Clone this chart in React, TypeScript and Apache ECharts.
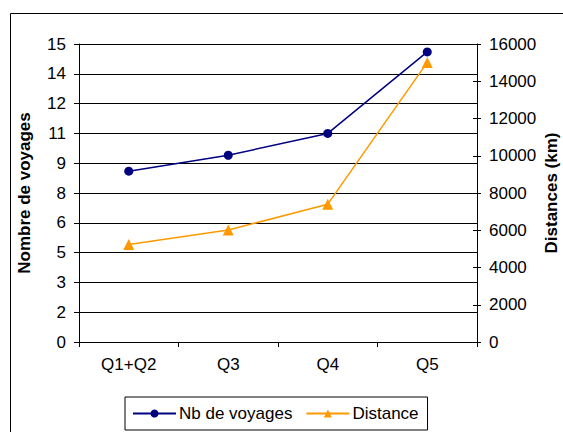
import React, { useEffect, useRef } from "react";
import * as echarts from "echarts";

const categories = ["Q1+Q2", "Q3", "Q4", "Q5"];
const voyages = [8.6, 9.4, 10.5, 14.6];
const distances = [5230, 6010, 7400, 15010];
const seriesNames = ["Nb de voyages", "Distance"];
const leftAxisName = "Nombre de voyages";
const rightAxisName = "Distances (km)";

const FONT = "'Liberation Sans', Arial, sans-serif";

export default function App() {
  const ref = useRef<HTMLDivElement>(null);
  useEffect(() => {
    if (!ref.current) return;
    const chart = echarts.init(ref.current, null, { renderer: "svg" });
    chart.setOption({
      animation: false,
      backgroundColor: "#fff",
      textStyle: { fontFamily: FONT },
      graphic: [
        {
          type: "rect",
          shape: { x: 10.5, y: 13.5, width: 600, height: 500 },
          style: { fill: "none", stroke: "#000", lineWidth: 1 },
          silent: true,
        },
      ],
      grid: { left: 79, right: 86, top: 44, bottom: 90, containLabel: false, outerBoundsMode: "none" },
      legend: {
        data: seriesNames,
        left: 125,
        top: 397,
        padding: [8, 9, 8, 7],
        itemWidth: 43,
        itemHeight: 10,
        itemGap: 13,
        borderColor: "#000",
        borderWidth: 1,
        textStyle: { fontFamily: FONT, fontSize: 17, color: "#000", padding: [0, 0, 0, -2] },
      },
      xAxis: {
        type: "category",
        data: categories,
        boundaryGap: true,
        axisLine: { lineStyle: { color: "#000", width: 1 } },
        axisTick: { show: true, length: 5, lineStyle: { color: "#000" } },
        axisLabel: { color: "#000", fontSize: 17, fontFamily: FONT, margin: 14 },
      },
      yAxis: [
        {
          type: "value",
          min: 0,
          max: 15,
          interval: 1.5,
          position: "left",
          name: leftAxisName,
          nameLocation: "middle",
          nameGap: 46,
          nameRotate: 90,
          nameTextStyle: { fontSize: 17, lineHeight: 17, fontWeight: "bold", color: "#000", fontFamily: FONT },
          axisLine: { show: true, lineStyle: { color: "#000", width: 1 } },
          axisTick: { show: true, length: 5, lineStyle: { color: "#000" } },
          axisLabel: {
            color: "#000",
            fontSize: 17,
            fontFamily: FONT,
            margin: 13,
            formatter: (v: number) => String(Math.round(v)),
          },
          splitLine: { show: true, lineStyle: { color: "#000", width: 1 } },
        },
        {
          type: "value",
          min: 0,
          max: 16000,
          interval: 2000,
          position: "right",
          name: rightAxisName,
          nameLocation: "middle",
          nameGap: 66,
          nameMoveOverlap: false,
          nameRotate: 90,
          nameTextStyle: { fontSize: 17, lineHeight: 17, fontWeight: "bold", color: "#000", fontFamily: FONT },
          axisLine: { show: true, lineStyle: { color: "#000", width: 1 } },
          axisTick: { show: true, length: 4, lineStyle: { color: "#000" } },
          axisLabel: {
            color: "#000",
            fontSize: 17,
            fontFamily: FONT,
            margin: 12,
            formatter: (v: number) => String(v),
          },
          splitLine: { show: false },
        },
        {
          type: "value",
          min: 0,
          max: 16000,
          interval: 2000,
          position: "right",
          axisLine: { show: false },
          axisTick: { show: true, inside: true, length: 4, lineStyle: { color: "#000" } },
          axisLabel: { show: false },
          splitLine: { show: false },
        },
      ],
      series: [
        {
          name: seriesNames[0],
          type: "line",
          yAxisIndex: 0,
          data: voyages,
          symbol: "circle",
          symbolSize: 9,
          itemStyle: { color: "#000080" },
          lineStyle: { color: "#000080", width: 1.5 },
        },
        {
          name: seriesNames[1],
          type: "line",
          yAxisIndex: 1,
          data: distances,
          symbol: "triangle",
          symbolSize: 11,
          itemStyle: { color: "#FF9900" },
          lineStyle: { color: "#FF9900", width: 1.5 },
        },
      ],
    });
    return () => chart.dispose();
  }, []);
  return (
    <div
      ref={ref}
      style={{ position: "fixed", left: 0, top: 0, width: 563, height: 432 }}
    />
  );
}
